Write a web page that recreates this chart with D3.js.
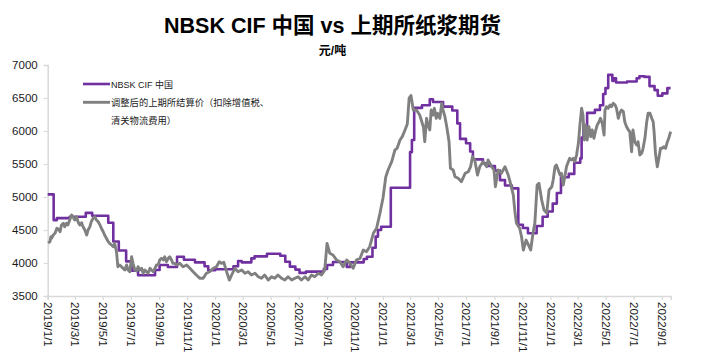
<!DOCTYPE html>
<html><head><meta charset="utf-8">
<script src="https://cdn.jsdelivr.net/npm/d3@7"></script>
<style>body{margin:0;background:#fff}</style>
</head><body>
<svg id="c" width="702" height="360"></svg>
<script>
const titleText = "NBSK CIF 中国 vs 上期所纸浆期货";
const unitText = "元/吨";
const legendNames = ["NBSK CIF 中国", "调整后的上期所结算价（扣除增值税、", "清关物流费用）"];
const yTicks = [3500, 4000, 4500, 5000, 5500, 6000, 6500, 7000];
const xTickLabels = ["2019/1/1","2019/3/1","2019/5/1","2019/7/1","2019/9/1","2019/11/1",
  "2020/1/1","2020/3/1","2020/5/1","2020/7/1","2020/9/1","2020/11/1",
  "2021/1/1","2021/3/1","2021/5/1","2021/7/1","2021/9/1","2021/11/1",
  "2022/1/1","2022/3/1","2022/5/1","2022/7/1","2022/9/1"];
const dateRange = ["2019-01-01", "2022-09-20"];

// NBSK CIF China (step series)
const nbsk = [
["2019-01-01",5040],["2019-01-14",4650],["2019-01-21",4680],["2019-02-18",4700],["2019-03-25",4760],
["2019-04-08",4715],["2019-05-13",4610],["2019-05-24",4325],["2019-06-05",4190],["2019-06-21",4025],
["2019-07-03",3885],["2019-07-17",3815],["2019-08-23",3895],["2019-09-02",3970],["2019-09-20",3940],
["2019-10-10",4095],["2019-10-25",4050],["2019-11-18",4010],["2019-12-09",3950],["2019-12-17",3890],
["2020-01-01",3905],["2020-02-10",3950],["2020-02-20",4030],["2020-02-28",4010],["2020-03-20",4070],
["2020-03-27",4100],["2020-04-23",4140],["2020-05-22",4110],["2020-06-02",4020],["2020-06-12",3945],
["2020-06-24",3900],["2020-07-03",3850],["2020-07-17",3870],["2020-08-25",3910],["2020-09-01",3970],
["2020-09-14",4015],["2020-10-14",3940],["2020-10-21",4010],["2020-11-20",4060],["2020-11-27",4095],
["2020-12-09",4230],["2020-12-16",4400],["2020-12-21",4500],["2020-12-28",4550],["2021-01-18",5140],
["2021-03-01",5680],["2021-03-05",5864],["2021-03-10",6350],["2021-03-27",6390],["2021-04-13",6480],
["2021-04-20",6440],["2021-05-12",6370],["2021-06-01",6310],["2021-06-12",6115],["2021-06-18",5880],
["2021-07-01",5814],["2021-07-10",5690],["2021-07-16",5570],["2021-08-07",5510],["2021-08-18",5470],
["2021-09-02",5400],["2021-09-13",5255],["2021-09-24",5175],["2021-10-09",5130],["2021-10-23",4580],
["2021-11-02",4530],["2021-11-13",4450],["2021-12-02",4560],["2021-12-15",4700],["2021-12-26",4780],
["2022-01-06",4900],["2022-01-15",5060],["2022-01-24",5300],["2022-02-10",5350],["2022-02-22",5520],
["2022-03-07",5585],["2022-03-10",5900],["2022-03-14",6080],["2022-03-22",6275],["2022-04-08",6320],
["2022-04-19",6390],["2022-04-26",6560],["2022-05-01",6650],["2022-05-07",6850],["2022-05-16",6760],
["2022-05-19",6800],["2022-05-24",6735],["2022-06-17",6750],["2022-07-08",6800],["2022-07-14",6830],
["2022-07-25",6820],["2022-08-05",6680],["2022-08-16",6620],["2022-08-23",6535],["2022-09-02",6570],
["2022-09-13",6650],["2022-09-20",6650]
];

// Adjusted SHFE pulp settlement price
const futures = [
["2019-01-02",4303],["2019-01-06",4323],["2019-01-08",4398],["2019-01-10",4379],["2019-01-13",4424],
["2019-01-17",4450],["2019-01-21",4526],["2019-01-24",4515],["2019-01-28",4474],["2019-01-31",4576],
["2019-02-04",4602],["2019-02-07",4550],["2019-02-11",4602],["2019-02-14",4576],["2019-02-18",4651],
["2019-02-22",4727],["2019-02-25",4701],["2019-03-01",4651],["2019-03-05",4701],["2019-03-08",4626],
["2019-03-12",4576],["2019-03-16",4610],["2019-03-19",4550],["2019-03-23",4500],["2019-03-27",4424],
["2019-03-30",4500],["2019-04-03",4550],["2019-04-06",4626],["2019-04-10",4677],["2019-04-14",4701],
["2019-04-17",4651],["2019-04-21",4626],["2019-04-25",4576],["2019-04-28",4526],["2019-05-02",4474],
["2019-05-05",4424],["2019-05-09",4374],["2019-05-13",4323],["2019-05-16",4298],["2019-05-20",4273],
["2019-05-24",4247],["2019-05-27",4298],["2019-05-31",4171],["2019-06-03",3944],["2019-06-07",3970],
["2019-06-11",3944],["2019-06-14",3920],["2019-06-18",3894],["2019-06-22",3970],["2019-06-25",3894],
["2019-06-29",3868],["2019-07-03",4095],["2019-07-06",3995],["2019-07-10",3894],["2019-07-14",3879],
["2019-07-17",3944],["2019-07-21",3894],["2019-07-25",3920],["2019-07-28",3844],["2019-08-01",3894],
["2019-08-04",3868],["2019-08-08",3844],["2019-08-12",3920],["2019-08-15",3894],["2019-08-19",3868],
["2019-08-23",3920],["2019-08-26",3970],["2019-08-30",3970],["2019-09-02",4045],["2019-09-06",4071],
["2019-09-10",4045],["2019-09-13",4095],["2019-09-17",4020],["2019-09-21",4071],["2019-09-24",4095],
["2019-09-28",4045],["2019-10-01",3995],["2019-10-05",3995],["2019-10-09",3970],["2019-10-16",3995],
["2019-10-23",3944],["2019-10-31",3970],["2019-11-07",3920],["2019-11-14",3868],["2019-11-21",3818],
["2019-11-29",3768],["2019-12-06",3768],["2019-12-13",3844],["2019-12-20",3868],["2019-12-28",3920],
["2020-01-04",3944],["2020-01-10",4020],["2020-01-15",3995],["2020-01-20",4010],["2020-01-26",3868],
["2020-02-01",3742],["2020-02-06",3818],["2020-02-13",3920],["2020-02-20",3868],["2020-02-28",3894],
["2020-03-06",3844],["2020-03-13",3868],["2020-03-20",3818],["2020-03-28",3844],["2020-04-04",3792],
["2020-04-11",3768],["2020-04-18",3818],["2020-04-26",3742],["2020-05-03",3792],["2020-05-10",3768],
["2020-05-17",3818],["2020-05-25",3768],["2020-06-01",3742],["2020-06-08",3792],["2020-06-16",3742],
["2020-06-23",3768],["2020-06-30",3792],["2020-07-07",3742],["2020-07-15",3792],["2020-07-22",3742],
["2020-07-29",3818],["2020-08-05",3792],["2020-08-13",3844],["2020-08-20",3818],["2020-08-27",3894],
["2020-09-01",4298],["2020-09-07",4147],["2020-09-14",4121],["2020-09-22",4045],["2020-09-29",4020],
["2020-10-06",3944],["2020-10-14",4045],["2020-10-21",3995],["2020-10-28",3920],["2020-11-04",4045],
["2020-11-12",4071],["2020-11-19",4197],["2020-11-26",4171],["2020-12-03",4247],["2020-12-11",4450],
["2020-12-18",4526],["2020-12-25",4742],["2021-01-01",4985],["2021-01-07",5303],["2021-01-12",5409],
["2021-01-20",5535],["2021-01-27",5712],["2021-02-01",5742],["2021-02-07",5864],["2021-02-12",5914],
["2021-02-18",6015],["2021-02-23",6106],["2021-02-27",6500],["2021-03-03",6538],["2021-03-08",6318],
["2021-03-15",6318],["2021-03-22",6242],["2021-03-30",6065],["2021-04-02",5838],["2021-04-06",6192],
["2021-04-09",6091],["2021-04-13",6015],["2021-04-16",6318],["2021-04-20",6242],["2021-04-23",6344],
["2021-04-27",6192],["2021-04-30",6268],["2021-05-05",6192],["2021-05-09",6420],["2021-05-12",6318],
["2021-05-16",6217],["2021-05-20",6065],["2021-05-25",5838],["2021-05-28",5435],["2021-06-03",5409],
["2021-06-07",5307],["2021-06-14",5283],["2021-06-21",5232],["2021-06-29",5359],["2021-07-06",5383],
["2021-07-11",5459],["2021-07-15",5610],["2021-07-20",5560],["2021-07-26",5333],["2021-07-31",5459],
["2021-08-07",5535],["2021-08-15",5459],["2021-08-18",5560],["2021-08-26",5459],["2021-08-31",5409],
["2021-09-03",5156],["2021-09-09",5409],["2021-09-16",5359],["2021-09-24",5459],["2021-10-01",5333],
["2021-10-05",5232],["2021-10-12",5031],["2021-10-16",4753],["2021-10-19",4601],["2021-10-26",4526],
["2021-10-30",4398],["2021-11-03",4197],["2021-11-09",4348],["2021-11-14",4273],["2021-11-19",4197],
["2021-11-24",4450],["2021-11-28",4601],["2021-12-03",5182],["2021-12-07",5207],["2021-12-13",4954],
["2021-12-18",4803],["2021-12-24",4757],["2021-12-29",5106],["2022-01-04",5156],["2022-01-07",5257],
["2022-01-11",5459],["2022-01-14",5485],["2022-01-18",5409],["2022-01-22",5333],["2022-01-25",5359],
["2022-01-29",5182],["2022-02-02",5333],["2022-02-05",5459],["2022-02-09",5535],["2022-02-12",5586],
["2022-02-16",5560],["2022-02-20",5586],["2022-02-23",5535],["2022-02-27",5636],["2022-03-03",5813],
["2022-03-06",6065],["2022-03-10",6344],["2022-03-13",6242],["2022-03-16",5864],["2022-03-19",6091],
["2022-03-22",5864],["2022-03-26",6065],["2022-03-30",5914],["2022-04-02",6015],["2022-04-06",5889],
["2022-04-09",5990],["2022-04-13",6091],["2022-04-17",6141],["2022-04-20",6192],["2022-04-24",6116],
["2022-04-28",5939],["2022-04-30",6318],["2022-05-03",6368],["2022-05-07",6344],["2022-05-11",6394],
["2022-05-14",6368],["2022-05-18",6420],["2022-05-22",6394],["2022-05-25",6344],["2022-05-29",6192],
["2022-06-01",6268],["2022-06-05",6318],["2022-06-09",6293],["2022-06-12",6141],["2022-06-16",6065],
["2022-06-20",6015],["2022-06-23",5990],["2022-06-27",5686],["2022-06-30",6015],["2022-07-04",5838],
["2022-07-08",5788],["2022-07-11",5838],["2022-07-15",5636],["2022-07-19",5662],["2022-07-22",5738],
["2022-07-26",5889],["2022-07-30",6141],["2022-08-02",6268],["2022-08-06",6268],["2022-08-10",6192],
["2022-08-13",6141],["2022-08-15",5990],["2022-08-18",5662],["2022-08-22",5459],["2022-08-26",5610],
["2022-08-29",5738],["2022-09-02",5738],["2022-09-05",5762],["2022-09-09",5738],["2022-09-13",5838],
["2022-09-16",5889],["2022-09-20",5990]
];

const colors = {nbsk: "#7030A0", futures: "#808080", axis: "#d9d9d9", text: "#1a1a1a"};
const fontLatin = "'Liberation Sans', Arial, 'Noto Sans CJK SC', sans-serif";

const parse = d3.timeParse("%Y-%m-%d");
const svg = d3.select("#c");

const x = d3.scaleTime().domain(dateRange.map(parse)).range([47.7, 670.6]);
const y = d3.scaleLinear().domain([3500, 7000]).range([296, 65]);

// Title
svg.append("text").attr("x", 332.5).attr("y", 33).attr("text-anchor", "middle")
  .style("font-family", fontLatin).style("font-weight", "bold").style("font-size", "21.5px")
  .attr("fill", "#000").text(titleText);
svg.append("text").attr("x", 332.5).attr("y", 55).attr("text-anchor", "middle")
  .style("font-family", fontLatin).style("font-weight", "bold").style("font-size", "12px")
  .attr("fill", "#000").text(unitText);

// Y axis
const yAxis = svg.append("g").attr("transform", "translate(47.7,0)")
  .call(d3.axisLeft(y).tickValues(yTicks).tickSize(4).tickPadding(6).tickFormat(d3.format("d")));
yAxis.select(".domain").attr("stroke", colors.axis).attr("stroke-width", 1.5);
yAxis.selectAll(".tick line").attr("stroke", colors.axis).attr("stroke-width", 1.2);
yAxis.selectAll(".tick text").style("font-family", fontLatin).style("font-size", "11.5px").attr("fill", colors.text);

// X axis
const xTickDates = xTickLabels.map(s => { const p = s.split("/").map(Number); return new Date(p[0], p[1]-1, p[2]); });
const xAxis = svg.append("g").attr("transform", "translate(0,296)")
  .call(d3.axisBottom(x).tickValues(xTickDates).tickSize(4).tickFormat((d, i) => xTickLabels[i]));
xAxis.select(".domain").attr("stroke", colors.axis).attr("stroke-width", 1.5);
xAxis.selectAll(".tick line").attr("stroke", colors.axis).attr("stroke-width", 1.2);
xAxis.selectAll(".tick text")
  .attr("transform", "rotate(90)").attr("x", 6).attr("y", 0).attr("dy", "0.35em")
  .style("text-anchor", "start").style("font-family", fontLatin).style("font-size", "11.5px").attr("fill", colors.text);

// Lines
const nbskLine = d3.line().x(d => x(parse(d[0]))).y(d => y(d[1])).curve(d3.curveStepAfter);
const futLine = d3.line().x(d => x(parse(d[0]))).y(d => y(d[1]));
svg.append("path").datum(nbsk).attr("d", nbskLine).attr("fill", "none")
  .attr("stroke", colors.nbsk).attr("stroke-width", 2.6).attr("stroke-linejoin", "round");
svg.append("path").datum(futures).attr("d", futLine).attr("fill", "none")
  .attr("stroke", colors.futures).attr("stroke-width", 2.9).attr("stroke-linejoin", "round");

// Legend
const lg = svg.append("g");
lg.append("line").attr("x1", 83).attr("x2", 110).attr("y1", 84).attr("y2", 84)
  .attr("stroke", colors.nbsk).attr("stroke-width", 2.6);
lg.append("text").attr("x", 111).attr("y", 88).style("font-family", fontLatin).style("font-size", "9px")
  .attr("fill", colors.text).text(legendNames[0]);
lg.append("line").attr("x1", 83).attr("x2", 110).attr("y1", 102.3).attr("y2", 102.3)
  .attr("stroke", colors.futures).attr("stroke-width", 2.9);
lg.append("text").attr("x", 111).attr("y", 106).style("font-family", fontLatin).style("font-size", "9.3px")
  .attr("fill", colors.text).text(legendNames[1]);
lg.append("text").attr("x", 111).attr("y", 124.3).style("font-family", fontLatin).style("font-size", "9.3px")
  .attr("fill", colors.text).text(legendNames[2]);
</script>
</body></html>
